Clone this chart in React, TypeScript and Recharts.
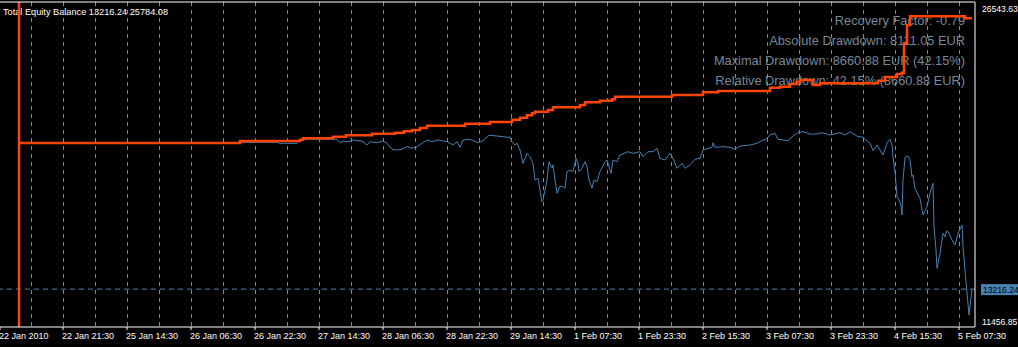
import { ComposedChart, Line, XAxis, YAxis, CartesianGrid, ReferenceLine } from "recharts";

// price scale limits shown on the right axis
const yMin = 11456.85;
const yMax = 26543.63;
const lastEquity = 13216.24;
const lastBalance = 25784.08;
const startBar = 19;
const lastBar = 975;

const xTickBars = [0, 63, 127, 191, 255, 319, 383, 447, 511, 575, 639, 703, 767, 831, 895, 959];
const xTickLabels = [
  "22 Jan 2010", "22 Jan 21:30", "25 Jan 14:30", "26 Jan 06:30", "26 Jan 22:30", "27 Jan 14:30",
  "28 Jan 06:30", "28 Jan 22:30", "29 Jan 14:30", "1 Feb 07:30", "1 Feb 23:30", "2 Feb 15:30",
  "3 Feb 07:30", "3 Feb 23:30", "4 Feb 15:30", "5 Feb 07:30",
];

const balanceBars = [
  19, 240, 300, 303, 333, 346, 372, 395, 404, 412, 420, 427, 465, 490, 512, 520, 527, 532, 535, 548,
  553, 580, 585, 600, 612, 615, 672, 703, 718, 770, 780, 790, 797, 800, 813, 820, 878, 885, 897, 902,
  904, 907, 910, 965, 972,
];
const balanceValues = [
  20000, 20091, 20151, 20216, 20291, 20356, 20430, 20476, 20541, 20602, 20695, 20801, 20894, 20973,
  21080, 21173, 21284, 21377, 21451, 21530, 21655, 21762, 21888, 21962, 22027, 22148, 22226, 22352,
  22412, 22565, 22612, 22737, 22844, 22923, 22691, 22770, 22890, 23062, 23201, 23262, 24640, 25476,
  25880, lastBalance, lastBalance,
];

const equityBars = [
  19, 238, 240, 278, 279, 297, 298, 307, 337, 340, 343, 348, 353, 357, 362, 367, 370, 377, 383, 387,
  392, 397, 402, 407, 412, 417, 422, 427, 432, 438, 447, 453, 457, 460, 463, 470, 478, 483, 489, 497,
  508, 510, 512, 515, 517, 520, 523, 527, 530, 533, 535, 538, 542, 543, 547, 549, 552, 553, 555, 557,
  560, 563, 565, 567, 570, 573, 576, 578, 579, 582, 585, 587, 589, 592, 594, 597, 600, 605, 607, 611,
  613, 617, 620, 628, 633, 640, 643, 648, 653, 657, 660, 665, 670, 673, 677, 682, 685, 690, 695, 700,
  703, 712, 713, 715, 723, 730, 735, 740, 750, 757, 763, 765, 770, 775, 778, 783, 788, 793, 798, 803,
  810, 817, 822, 830, 840, 845, 850, 858, 863, 865, 870, 873, 877, 880, 883, 887, 890, 892, 893, 895,
  897, 899, 901, 902, 903, 905, 908, 910, 912, 913, 915, 920, 923, 927, 930, 933, 934, 936, 937, 940,
  943, 945, 947, 949, 952, 955, 958, 962, 963, 966, 969, 972,
];
const equityValues = [
  20000, 20000, 20031, 20031, 19984, 19984, 20059, 20184, 20170, 20012, 20091, 20059, 20138, 20105,
  20091, 19905, 20059, 20012, 20091, 19984, 19706, 19673, 19706, 19827, 19752, 19827, 19984, 20138,
  20059, 20138, 20059, 19905, 20059, 19799, 20138, 20170, 20012, 20105, 20356, 20323, 20263, 20277,
  20059, 19905, 19984, 19673, 19056, 19520, 19362, 19056, 18281, 18360, 17273, 17352, 18281, 19130,
  18824, 18977, 18281, 17663, 18002, 17970, 17895, 18666, 18745, 18666, 19288, 19056, 18666, 18824,
  19130, 18898, 18281, 17895, 18281, 18202, 18666, 19130, 19209, 18592, 19209, 19130, 19441, 19594,
  19520, 19594, 19362, 19594, 19594, 19752, 19288, 19209, 19520, 19288, 18824, 19056, 18824, 18977,
  19242, 19288, 19673, 19799, 20012, 19799, 19827, 19799, 19706, 19859, 19905, 19984, 20138, 20138,
  20370, 20448, 20170, 20138, 20105, 20323, 20476, 20523, 20416, 20416, 20476, 20370, 20476, 20370,
  20523, 20291, 20277, 20170, 19984, 19641, 19905, 19673, 19441, 19984, 20170, 19905, 19362, 18666,
  17505, 17352, 17120, 16656, 18281, 19334, 19395, 19209, 18434, 18513, 17895, 17431, 16656, 17041,
  17663, 18128, 16113, 15031, 14181, 14878, 15806, 15649, 15927, 15806, 15495, 15263, 15806, 16192,
  15184, 13560, 12014, lastEquity,
];

const statLines = [
  "Recovery Factor: -0.79",
  "Absolute Drawdown: 8111.05 EUR",
  "Maximal Drawdown: 8660.88 EUR (42.15%)",
  "Relative Drawdown: 42.15% (8660.88 EUR)",
];

const balanceData = balanceBars.map((bar, i) => ({ bar, balance: balanceValues[i] }));
const equityData = equityBars.map((bar, i) => ({ bar, equity: equityValues[i] }));

const FONT = "'Liberation Sans', Arial, sans-serif";
const ORANGE = "#ff4500";
const BLUE = "#4682b4";
const GRID = "#7f8c99";

function TimeTick(props: any) {
  const { x, y, payload } = props;
  const idx = xTickBars.indexOf(payload.value);
  return (
    <text x={x - 1} y={y + 7} fill="#fff" fontSize={9} fontFamily={FONT} textAnchor="start">
      {xTickLabels[idx]}
    </text>
  );
}

function PriceTick(props: any) {
  const { x, y, payload } = props;
  const v = payload.value;
  if (v === lastEquity) {
    return (
      <g>
        <rect x={x - 2} y={y - 5} width={50} height={11} fill={BLUE} />
        <text x={x} y={y + 4} fill="#000" fontSize={8.6} fontFamily={FONT}>{v.toFixed(2)}</text>
      </g>
    );
  }
  const dy = v === yMax ? 10 : -2.5;
  return (
    <text x={x - 1} y={y + dy} fill="#fff" fontSize={8.6} fontFamily={FONT}>{v.toFixed(2)}</text>
  );
}

export default function App() {
  return (
    <div style={{ position: "absolute", left: 0, top: 0, width: 1018, height: 347, background: "#000", overflow: "hidden" }}>
      <svg width={1018} height={347} style={{ position: "absolute", left: 0, top: 0 }}>
        <text x={3} y={15} fill="#fff" fontSize={9.2} fontFamily={FONT}>
          Total Equity Balance {lastEquity.toFixed(2)} {lastBalance.toFixed(2)}
        </text>
        {statLines.map((s, i) => (
          <text key={s} x={965} y={25 + i * 20} fill="#778899" fontSize={12.8} fontFamily={FONT} textAnchor="end">
            {s}
          </text>
        ))}
      </svg>
      <div style={{ position: "absolute", left: 0, top: 0 }}>
        <ComposedChart width={1018} height={347} margin={{ top: 2, right: 0, bottom: 0, left: 0 }}>
          <CartesianGrid
            horizontal={false}
            stroke={GRID}
            strokeDasharray="4 4"
            verticalCoordinatesGenerator={({ offset }: any) =>
              Array.from({ length: 30 }, (_, k) => offset.left + 31.5 + 32 * k)
            }
          />
          <XAxis
            type="number"
            dataKey="bar"
            domain={[0, lastBar]}
            ticks={xTickBars}
            interval={0}
            allowDataOverflow
            height={20}
            axisLine={{ stroke: "#fff" }}
            tickLine={{ stroke: "#fff" }}
            tickSize={3}
            tick={<TimeTick />}
          />
          <YAxis
            orientation="right"
            type="number"
            domain={[yMin, yMax]}
            ticks={[yMax, lastEquity, yMin]}
            interval={0}
            allowDataOverflow
            width={43}
            axisLine={{ stroke: "#fff" }}
            tickLine={false}
            tick={<PriceTick />}
          />
          <ReferenceLine y={lastEquity} stroke="#5a82ad" strokeDasharray="5 4" />
          <Line
            data={equityData}
            dataKey="equity"
            type="linear"
            stroke={BLUE}
            strokeWidth={1}
            dot={false}
            activeDot={false}
            isAnimationActive={false}
          />
          <Line
            data={balanceData}
            dataKey="balance"
            type="stepAfter"
            stroke={ORANGE}
            strokeWidth={2.5}
            dot={false}
            activeDot={false}
            isAnimationActive={false}
          />
          <ReferenceLine x={startBar} stroke={ORANGE} strokeWidth={2.5} />
          <ReferenceLine y={yMax} stroke="#fff" />
        </ComposedChart>
      </div>
    </div>
  );
}
